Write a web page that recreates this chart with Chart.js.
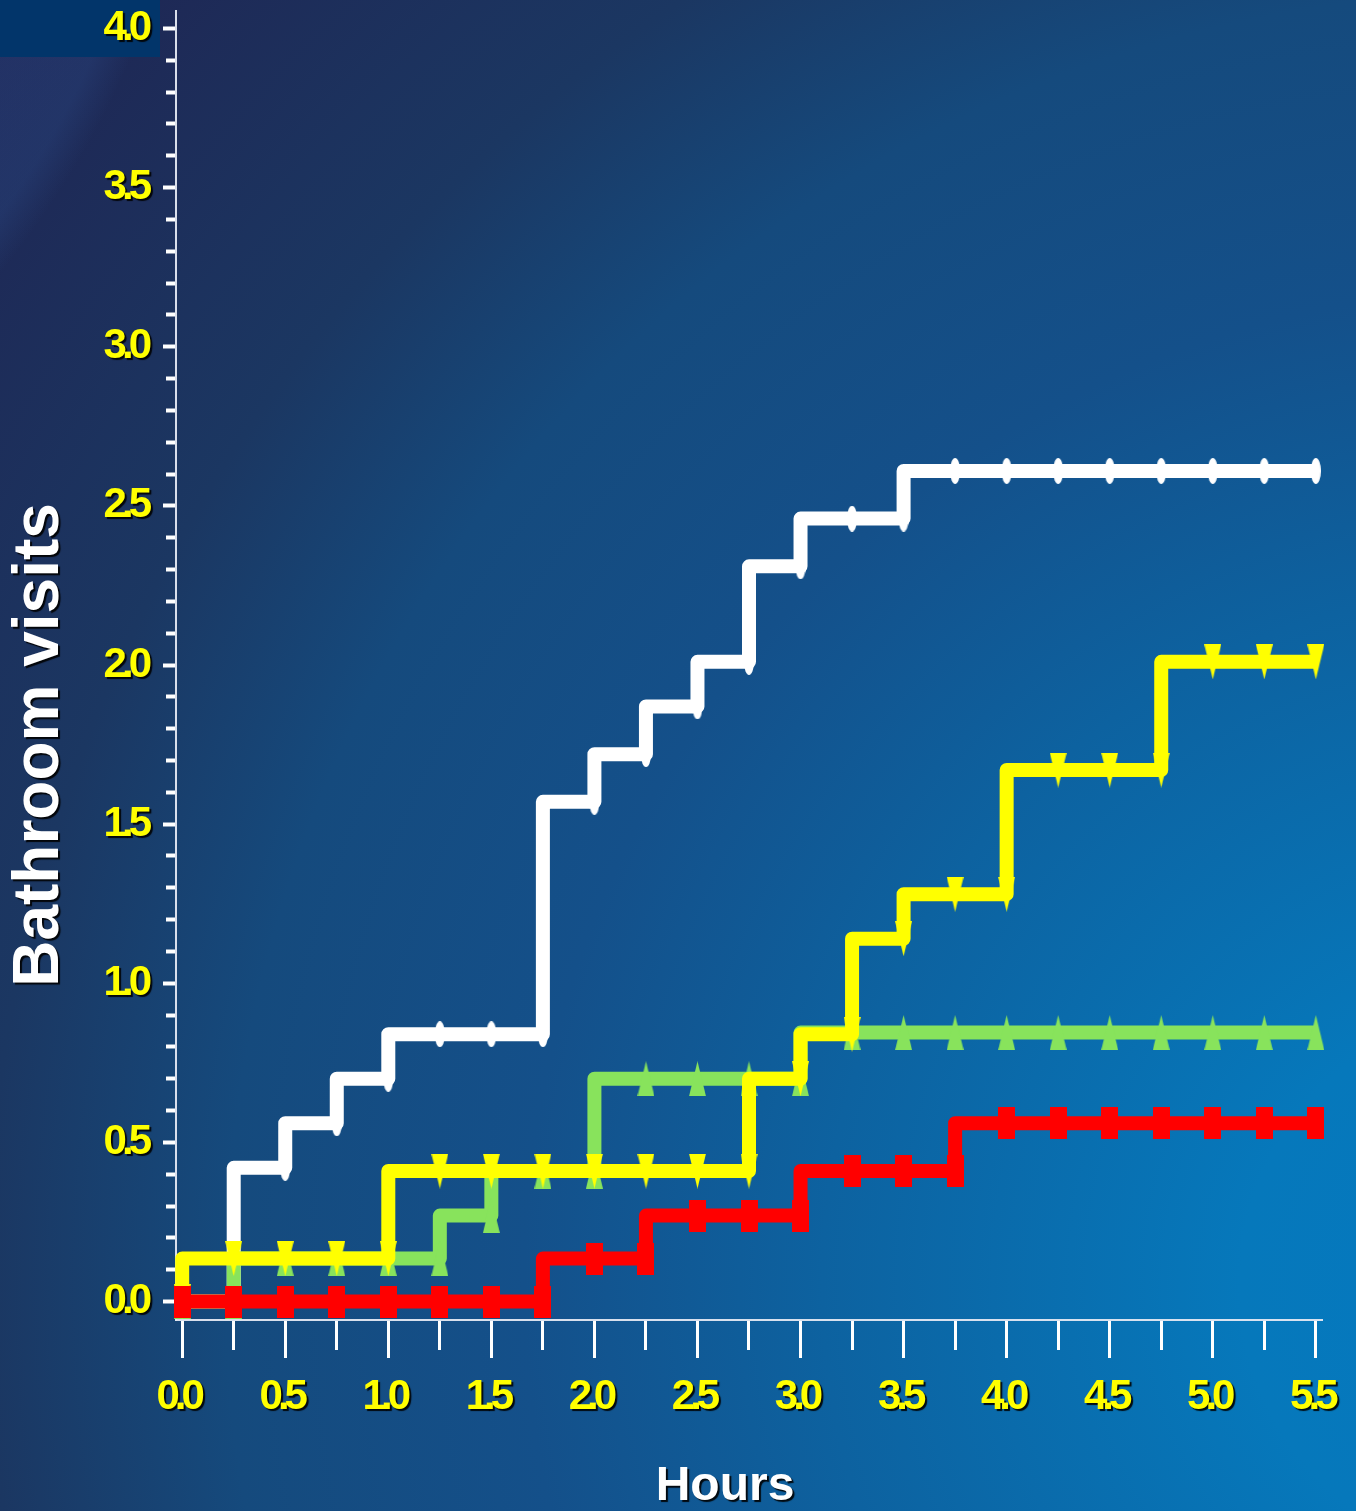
<!DOCTYPE html>
<html>
<head>
<meta charset="utf-8">
<title>Bathroom visits over time</title>
<script src="https://cdn.jsdelivr.net/npm/chart.js@4.4.1/dist/chart.umd.min.js"></script>
<style>
  html, body { margin: 0; padding: 0; }
  body {
    width: 1356px; height: 1511px; overflow: hidden; position: relative;
    background:
      radial-gradient(circle 905px at -700px -300px, rgba(50,95,165,0.22) 0%, rgba(50,95,165,0.22) 96%, rgba(50,95,165,0) 100%),
      radial-gradient(circle farthest-corner at 112% 85%, #0479c0 0%, #0678bb 14%, #0d62a0 35%, #14508a 50%, #154a7d 65%, #1b3762 77%, #1f2452 100%);
  }
  #corner { position: absolute; left: 0; top: 0; width: 160px; height: 57px; background: #02356a; }
  #wrap { position: absolute; left: 0; top: 0; width: 1356px; height: 1511px; }
</style>
</head>
<body>
<div id="corner"></div>
<div id="wrap"><canvas id="chart" width="1356" height="1511"></canvas></div>
<script>
// Time points (hours), one every quarter hour
const hours = [0, 0.25, 0.5, 0.75, 1, 1.25, 1.5, 1.75, 2, 2.25, 2.5, 2.75,
               3, 3.25, 3.5, 3.75, 4, 4.25, 4.5, 4.75, 5, 5.25, 5.5];

// Cumulative bathroom visits per series
const whiteVisits  = [0, 0, 0.42, 0.56, 0.70, 0.84, 0.84, 0.84, 1.57, 1.72, 1.87, 2.01,
                      2.31, 2.46, 2.46, 2.61, 2.61, 2.61, 2.61, 2.61, 2.61, 2.61, 2.61];
const yellowVisits = [0, 0.135, 0.135, 0.135, 0.135, 0.41, 0.41, 0.41, 0.41, 0.41, 0.41, 0.41,
                      0.70, 0.84, 1.14, 1.28, 1.28, 1.67, 1.67, 1.67, 2.01, 2.01, 2.01];
const greenVisits  = [0, 0, 0.135, 0.135, 0.135, 0.135, 0.27, 0.41, 0.41, 0.70, 0.70, 0.70,
                      0.70, 0.845, 0.845, 0.845, 0.845, 0.845, 0.845, 0.845, 0.845, 0.845, 0.845];
const redVisits    = [0, 0, 0, 0, 0, 0, 0, 0, 0.135, 0.135, 0.27, 0.27,
                      0.27, 0.41, 0.41, 0.41, 0.56, 0.56, 0.56, 0.56, 0.56, 0.56, 0.56];

// Axis tick labels
const xLabelValues = [0, 0.5, 1, 1.5, 2, 2.5, 3, 3.5, 4, 4.5, 5, 5.5];
const xLabels = ['0.0', '0.5', '1.0', '1.5', '2.0', '2.5', '3.0', '3.5', '4.0', '4.5', '5.0', '5.5'];
const yLabels = ['0.0', '0.5', '1.0', '1.5', '2.0', '2.5', '3.0', '3.5', '4.0'];

const FONT = '"Liberation Sans", Arial, Helvetica, sans-serif';

function pairs(values) {
  return hours.map((h, i) => ({ x: h, y: values[i] }));
}

// Marker sprites (tall, narrow shapes)
function sprite(w, h, color, drawShape) {
  const c = document.createElement('canvas');
  c.width = w; c.height = h;
  const g = c.getContext('2d');
  g.fillStyle = color;
  g.beginPath();
  drawShape(g, w, h);
  g.closePath();
  g.fill();
  return c;
}
const ovalMarker = sprite(10, 26, '#ffffff', (g, w, h) => g.ellipse(w / 2, h / 2, w / 2, h / 2, 0, 0, Math.PI * 2));
const downMarker = sprite(17, 35, '#ffff00', (g, w, h) => { g.moveTo(0, 0); g.lineTo(w, 0); g.lineTo(w / 2, h); });
const upMarker   = sprite(17, 35, '#88e35c', (g, w, h) => { g.moveTo(w / 2, 0); g.lineTo(w, h); g.lineTo(0, h); });
const boxMarker  = sprite(17, 32, '#ff0000', (g, w, h) => g.rect(0, 0, w, h));

function series(label, values, color, marker, order) {
  return {
    label, data: pairs(values), order,
    borderColor: color, backgroundColor: color,
    pointStyle: marker, pointRadius: 10, pointHoverRadius: 10,
    clip: false
  };
}

// Shadowed, tightly spaced tick labels; axis titles
const textStyling = {
  id: 'textStyling',
  afterDatasetsDraw(chart) {
    const c = chart.ctx;
    c.letterSpacing = '-5px';
    c.shadowColor = 'rgba(0,0,0,0.9)';
    c.shadowOffsetX = 2; c.shadowOffsetY = 2; c.shadowBlur = 1;
  },
  afterDraw(chart) {
    const c = chart.ctx;
    c.letterSpacing = '0px';
    c.save();
    c.fillStyle = '#ffffff';
    c.textAlign = 'center';
    c.textBaseline = 'middle';
    c.font = 'bold 64px ' + FONT;
    c.translate(40, 745);
    c.rotate(-Math.PI / 2);
    c.fillText('Bathroom visits', 0, 0);
    c.restore();
    c.save();
    c.fillStyle = '#ffffff';
    c.textAlign = 'center';
    c.textBaseline = 'middle';
    c.font = 'bold 48px ' + FONT;
    c.fillText('Hours', 725, 1487);
    c.restore();
    c.shadowColor = 'rgba(0,0,0,0)';
    c.shadowOffsetX = 0; c.shadowOffsetY = 0; c.shadowBlur = 0;
  }
};

const tickFont = { family: FONT, size: 42, weight: 'bold', lineHeight: 1.2 };

new Chart(document.getElementById('chart'), {
  type: 'line',
  data: {
    datasets: [
      series('Red', redVisits, '#ff0000', boxMarker, 0),
      series('Yellow', yellowVisits, '#ffff00', downMarker, 1),
      series('Green', greenVisits, '#88e35c', upMarker, 2),
      series('White', whiteVisits, '#ffffff', ovalMarker, 3)
    ]
  },
  options: {
    responsive: false,
    animation: false,
    devicePixelRatio: 1,
    events: [],
    layout: { padding: { top: 8, right: 34, left: 0, bottom: 0 } },
    elements: {
      line: { borderWidth: 14, stepped: 'after', borderJoinStyle: 'round', borderCapStyle: 'butt', tension: 0, fill: false }
    },
    plugins: { legend: { display: false }, tooltip: { enabled: false }, title: { display: false } },
    scales: {
      x: {
        type: 'linear', bounds: 'data', min: -0.03, max: 5.53,
        afterBuildTicks: s => { s.ticks = hours.map(v => ({ value: v })); },
        afterFit: s => { s.height = 191; s.paddingLeft = 0; s.paddingRight = 0; },
        border: { display: true, color: 'rgba(228,232,242,0.95)', width: 2 },
        grid: {
          display: true, drawOnChartArea: false, drawTicks: true,
          tickLength: 38, tickWidth: 3, tickColor: '#ffffff',
          tickBorderDash: c => (xLabelValues.indexOf(c.tick.value) >= 0 ? [] : [29, 100])
        },
        ticks: {
          color: '#ffff00', font: tickFont, padding: 14, z: 1, labelOffset: -4,
          autoSkip: false, maxRotation: 0, minRotation: 0,
          callback: v => { const i = xLabelValues.indexOf(v); return i >= 0 ? xLabels[i] : ''; }
        }
      },
      y: {
        type: 'linear', bounds: 'data', min: -0.058, max: 4.055,
        afterBuildTicks: s => {
          const t = [];
          for (let i = 0; i <= 40; i++) t.push({ value: i / 10 });
          s.ticks = t;
        },
        afterFit: s => { s.width = 176; s.paddingTop = 0; s.paddingBottom = 0; },
        border: { display: true, color: 'rgba(228,232,242,0.95)', width: 2 },
        grid: {
          display: true, drawOnChartArea: false, drawTicks: true,
          tickLength: 13, tickWidth: 4, tickColor: '#ffffff',
          tickBorderDash: c => (Math.round(c.tick.value * 10) % 5 === 0 ? [] : [10, 3]),
          tickBorderDashOffset: c => (Math.round(c.tick.value * 10) % 5 === 0 ? 0 : 10)
        },
        ticks: {
          color: '#ffff00', font: tickFont, padding: 16, z: 1, autoSkip: false,
          callback: v => { const k = Math.round(v * 10); return k % 5 === 0 ? yLabels[k / 5] : ''; }
        }
      }
    }
  },
  plugins: [textStyling]
});
</script>
</body>
</html>
